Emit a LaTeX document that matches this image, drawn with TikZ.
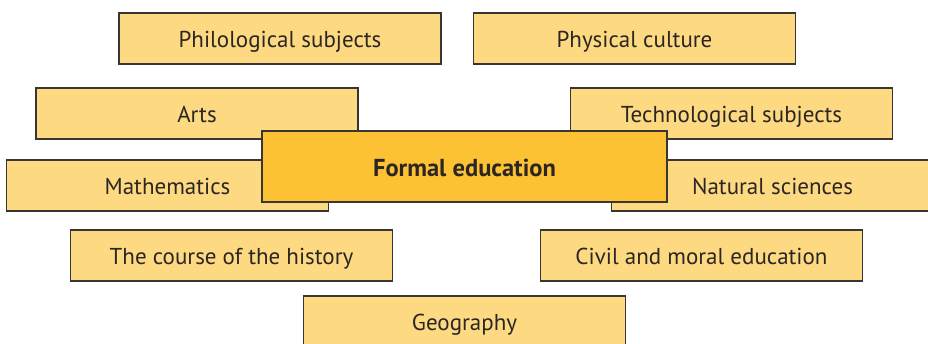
\documentclass[tikz,border=0pt]{standalone}
\usepackage{fontspec}
\setmainfont{PT Sans}
\definecolor{boxfill}{HTML}{FDD982}
\definecolor{mainfill}{HTML}{FDC234}
\definecolor{edge}{HTML}{3A3530}
\definecolor{txt}{HTML}{2B2622}
\begin{document}
\begin{tikzpicture}[x=1bp,y=-1bp,
  subj/.style={draw=edge, line width=1.3bp, fill=boxfill, minimum width=322bp, minimum height=51bp, inner sep=0pt, text=txt, text height=18bp, text depth=0bp, font=\fontsize{23bp}{26bp}\selectfont},
  mainbox/.style={draw=edge, line width=1.3bp, fill=mainfill, minimum width=405bp, minimum height=71bp, inner sep=0pt, text=txt, text height=19bp, text depth=0bp, font=\fontsize{24.5bp}{27bp}\selectfont\bfseries}]
\useasboundingbox (0,0) rectangle (928,343);
\node[subj] (phil) at (280,38.5) {Philological subjects};
\node[subj] (phys) at (634.5,38.5) {Physical culture};
\node[subj] (arts) at (197,113.5) {Arts};
\node[subj] (tech) at (731.5,113.5) {Technological subjects};
\node[subj] (math) at (167.5,185.5) {Mathematics};
\node[subj] (nat) at (772.5,185.5) {Natural sciences};
\node[mainbox] (formal) at (464.5,166.5) {Formal education};
\node[subj] (hist) at (231.5,255.5) {The course of the history};
\node[subj] (civ) at (701.5,255.5) {Civil and moral education};
\node[subj] (geo) at (464.5,321.5) {Geography};
\end{tikzpicture}
\end{document}
